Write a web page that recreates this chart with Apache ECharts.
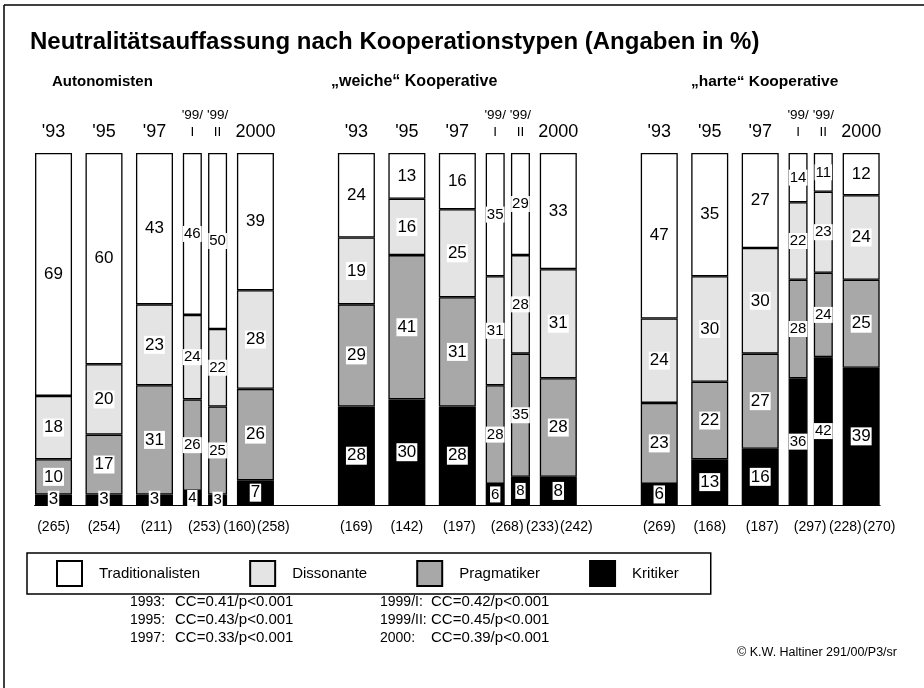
<!DOCTYPE html>
<html><head><meta charset="utf-8">
<script src="https://cdn.jsdelivr.net/npm/echarts@6/dist/echarts.min.js"></script>
<style>html,body{margin:0;padding:0;background:#fff}#c{width:924px;height:688px}</style>
</head><body><div id="c"></div>
<script>
// ---------- data ----------
const mainTitle = 'Neutralitätsauffassung nach Kooperationstypen (Angaben in %)';
const groupTitles = ['Autonomisten', '„weiche“ Kooperative', '„harte“ Kooperative'];
const years = ["'93", "'95", "'97", "'99/\nI", "'99/\nII", "2000"];
const seriesNames = ['Traditionalisten', 'Dissonante', 'Pragmatiker', 'Kritiker'];
// 18 bars: 6 years x 3 groups (Autonomisten, weiche, harte)
const kritiker         = [3, 3, 3, 4, 3, 7,   28, 30, 28, 6, 8, 8,    6, 13, 16, 36, 42, 39];
const pragmatiker      = [10, 17, 31, 26, 25, 26,   29, 41, 31, 28, 35, 28,   23, 22, 27, 28, 24, 25];
const dissonante       = [18, 20, 23, 24, 22, 28,   19, 16, 25, 31, 28, 31,   24, 30, 30, 22, 23, 24];
const traditionalisten = [69, 60, 43, 46, 50, 39,   24, 13, 16, 35, 29, 33,   47, 35, 27, 14, 11, 12];
const sampleN = [265, 254, 211, 253, 160, 258,  169, 142, 197, 268, 233, 242,  269, 168, 187, 297, 228, 270];
const ccYears = ['1993:', '1995:', '1997:', '1999/I:', '1999/II:', '2000:'];
const ccValues = ['CC=0.41/p<0.001', 'CC=0.43/p<0.001', 'CC=0.33/p<0.001', 'CC=0.42/p<0.001', 'CC=0.45/p<0.001', 'CC=0.39/p<0.001'];
const copyright = '© K.W. Haltiner 291/00/P3/sr';

// ---------- layout ----------
const slotOffsets = [0, 4, 8, 11, 13, 16];   // category slot of each year inside a group
const narrowYear = [false, false, false, true, true, false];
const nLabelShift = [0, 0, 2, 12, 22, 18];   // px shift of the (n) labels to the right
const groupStride = 24, padLeft = 1, nCats = 67;
const FONT = '"Liberation Sans", Arial, sans-serif';
const colors = { Traditionalisten: '#ffffff', Dissonante: '#e4e4e4', Pragmatiker: '#a8a8a8', Kritiker: '#000000' };

const bottomLabels = new Array(nCats).fill('');
const topLabels = new Array(nCats).fill('');
const slotOf = [];
for (let g = 0; g < 3; g++) {
  for (let y = 0; y < 6; y++) {
    const idx = g * 6 + y;
    const s = padLeft + g * groupStride + slotOffsets[y];
    slotOf[idx] = s;
    bottomLabels[s] = '{n' + y + '|(' + sampleN[idx] + ')}';
    topLabels[s] = narrowYear[y] ? '{s|' + years[y].replace('\n', '}\n{s|') + '}' : years[y];
  }
}
const nRich = {};
nLabelShift.forEach((sh, y) => {
  nRich['n' + y] = { fontSize: 14, fontFamily: FONT, color: '#000', padding: [0, 0, 0, 2 * sh] };
});
function build(values, narrow) {
  const arr = new Array(nCats).fill('-');
  values.forEach((v, i) => { if (narrowYear[i % 6] === narrow) arr[slotOf[i]] = v; });
  return arr;
}
const valuesByName = { Kritiker: kritiker, Pragmatiker: pragmatiker, Dissonante: dissonante, Traditionalisten: traditionalisten };
const stackOrder = ['Kritiker', 'Pragmatiker', 'Dissonante', 'Traditionalisten'];
const series = [];
[false, true].forEach(narrow => {
  stackOrder.forEach(name => {
    series.push({
      name, type: 'bar', stack: narrow ? 'n' : 'w',
      xAxisIndex: narrow ? 1 : 0,
      barWidth: narrow ? 19 : 37,
      data: build(valuesByName[name], narrow),
      itemStyle: { color: colors[name], borderColor: '#000', borderWidth: 1.3 },
      emphasis: { disabled: true },
      label: {
        show: true, position: 'inside', color: '#000',
        backgroundColor: '#fff', padding: [1, 1, 0, 1],
        fontFamily: FONT, fontSize: narrow ? 15 : 17, lineHeight: narrow ? 15 : 17
      }
    });
  });
});

const chart = echarts.init(document.getElementById('c'), null, { renderer: 'canvas' });
const ccGraphics = [];
ccYears.forEach((t, i) => {
  const col = Math.floor(i / 3), row = i % 3;
  ccGraphics.push({ type: 'text', left: col ? 380 : 130, top: 595 + row * 18,
    style: { text: t, font: '14px ' + FONT, fill: '#000' } });
  ccGraphics.push({ type: 'text', left: col ? 431 : 175, top: 594 + row * 18,
    style: { text: ccValues[i], font: '15px ' + FONT, fill: '#000' } });
});
chart.setOption({
  animation: false,
  backgroundColor: '#fff',
  title: [
    { text: mainTitle, left: 30, top: 30, padding: 0, textStyle: { fontSize: 24, fontWeight: 'bold', fontFamily: FONT, color: '#000' } },
    { text: groupTitles[0], left: 52, top: 74, padding: 0, textStyle: { fontSize: 15, fontWeight: 'bold', fontFamily: FONT, color: '#000' } },
    { text: groupTitles[1], left: 331, top: 74, padding: 0, textStyle: { fontSize: 16, fontWeight: 'bold', fontFamily: FONT, color: '#000' } },
    { text: groupTitles[2], left: 691, top: 74, padding: 0, textStyle: { fontSize: 15.5, fontWeight: 'bold', fontFamily: FONT, color: '#000' } }
  ],
  legend: {
    data: seriesNames, left: 27, top: 553, orient: 'horizontal',
    itemWidth: 25, itemHeight: 25, itemGap: 49, padding: [7, 32, 7, 29],
    borderColor: '#000', borderWidth: 1.5, selectedMode: false,
    icon: 'rect',
    textStyle: { fontSize: 15, fontFamily: FONT, color: '#000', padding: [0, 0, 0, 12] }
  },
  grid: { left: 34.6, width: 845.5, top: 153, bottom: 183, containLabel: false },
  xAxis: [
    { type: 'category', data: bottomLabels, position: 'bottom',
      axisLine: { lineStyle: { color: '#000', width: 1.2 } }, axisTick: { show: false },
      axisLabel: { interval: 0, margin: 15, fontSize: 14, fontFamily: FONT, color: '#000', rich: nRich } },
    { type: 'category', data: topLabels, position: 'top',
      axisLine: { show: false }, axisTick: { show: false },
      axisLabel: { interval: 0, margin: 12, fontSize: 18, fontFamily: FONT, color: '#000', lineHeight: 18,
        rich: { s: { fontSize: 13.5, fontFamily: FONT, lineHeight: 17, color: '#000' } } } }
  ],
  yAxis: { type: 'value', min: 0, max: 100, show: false },
  series,
  graphic: [
    { type: 'line', shape: { x1: 4, y1: 5, x2: 924, y2: 5 }, style: { stroke: '#000', lineWidth: 1.5 } },
    { type: 'line', shape: { x1: 4, y1: 5, x2: 4, y2: 688 }, style: { stroke: '#000', lineWidth: 1.5 } },
    ...ccGraphics,
    { type: 'text', right: 27, top: 646, style: { text: copyright, font: '12.5px ' + FONT, fill: '#000' } }
  ]
});
</script></body></html>
